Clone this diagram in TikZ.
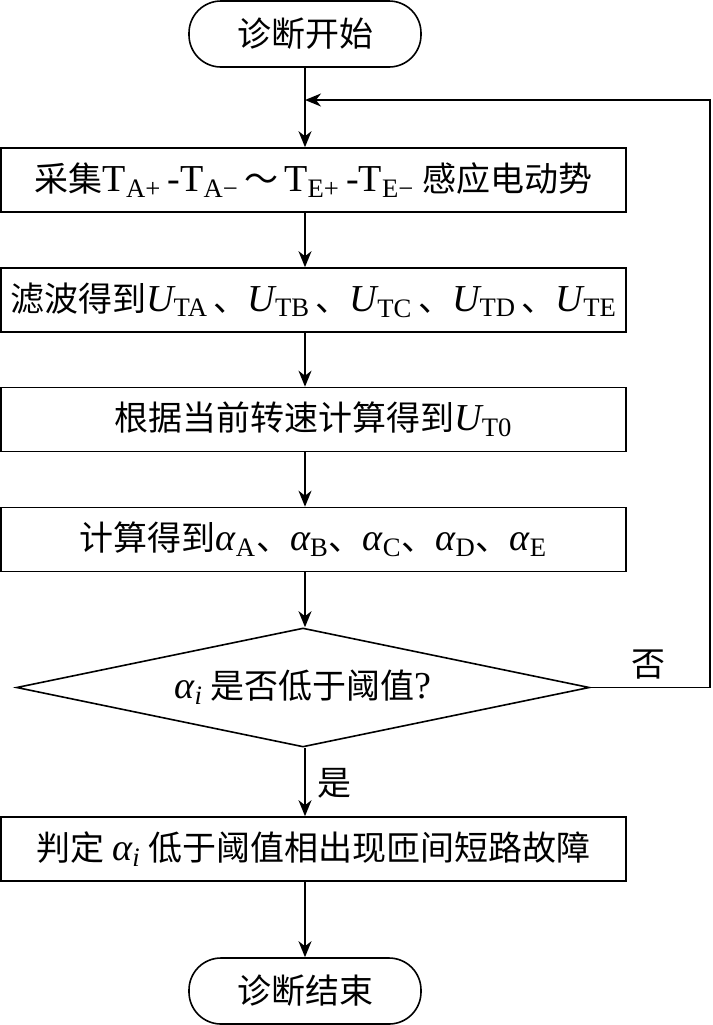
\documentclass[tikz,border=0pt]{standalone}
\usepackage{fontspec}
\setmainfont{Noto Sans CJK SC}
\newfontfamily\lat[Scale=1.12]{Liberation Serif}
\usetikzlibrary{arrows.meta,shapes.geometric}
\tikzset{
  term/.style={draw,line width=0.8pt,rounded corners=16pt,minimum width=116pt,minimum height=33pt,inner sep=0pt},
  proc/.style={draw,line width=0.8pt,minimum width=312.5pt,minimum height=32pt,inner sep=0pt},
  decide/.style={draw,line width=0.8pt,diamond,aspect=4.8,minimum width=286.5pt,minimum height=59.5pt,inner sep=0pt},
  flow/.style={line width=0.8pt,-{Stealth[length=8pt,width=6.5pt,inset=2.5pt]}},
  lbl/.style={inner sep=1pt}
}
\newcommand{\subx}[1]{\textsubscript{\lat #1}}
\newcommand{\itU}{{\lat\itshape U}}
\newcommand{\alf}{{\lat\itshape α}}

\begin{document}
\begin{tikzpicture}[x=0.5pt,y=-0.5pt,font=\fontsize{17pt}{20pt}\selectfont]
\useasboundingbox (0,0) rectangle (713,1025);
\coordinate (axis) at (305,0);
\node[term] (start) at (305,34) {诊断开始};
\node[proc] (collect) at (313.5,180) {采集{\lat T\subx{A+}\,-T\subx{A−}}\,～\,{\lat T\subx{E+}\,-T\subx{E−}} 感应电动势};
\node[proc] (filter) at (313.5,300) {滤波得到\itU\subx{TA}\,、\itU\subx{TB}\,、\itU\subx{TC}\,、\itU\subx{TD}\,、\itU\subx{TE}};
\node[proc] (speed) at (313.5,419.5) {根据当前转速计算得到\itU\subx{T0}};
\node[proc] (ratio) at (313.5,539.5) {计算得到\alf\subx{A}、\alf\subx{B}、\alf\subx{C}、\alf\subx{D}、\alf\subx{E}};
\node[decide] (check) at (303,687.5) {\alf\subx{\itshape i} 是否低于阈值{\lat ?}};
\node[proc] (fault) at (313.5,849) {判定 \alf\subx{\itshape i} 低于阈值相出现匝间短路故障};
\node[term] (stop) at (305,991) {诊断结束};
\coordinate (merge) at (305,100);
\coordinate (turn) at (710,100);
% main flow
\draw[flow] (start.south) -- (axis |- collect.north);
\draw[flow] (axis |- collect.south) -- (axis |- filter.north);
\draw[flow] (axis |- filter.south) -- (axis |- speed.north);
\draw[flow] (axis |- speed.south) -- (axis |- ratio.north);
\draw[flow] (axis |- ratio.south) -- (axis |- check.north);
\draw[flow] (axis |- check.south) -- (axis |- fault.north);
\draw[flow] (axis |- fault.south) -- (stop.north);
% loop back
\draw[flow] (check.east) -| (turn) -- (merge);
\node[lbl] (no) at (648,665) {否};
\node[lbl] (yes) at (334,783) {是};
\end{tikzpicture}
\end{document}
